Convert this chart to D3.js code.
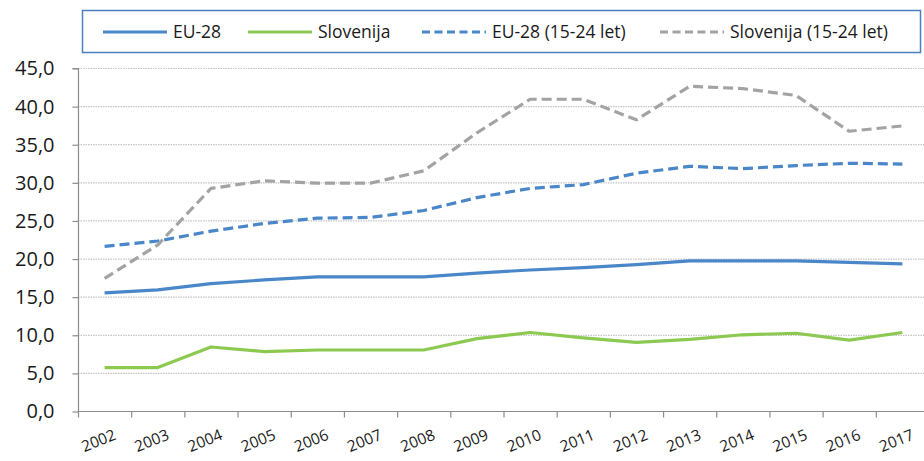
<!DOCTYPE html>
<html>
<head>
<meta charset="utf-8">
<script src="https://cdn.jsdelivr.net/npm/d3@7"></script>
<style>
  html, body { margin: 0; padding: 0; background: #ffffff; overflow: hidden; }
  svg { display: block; }
</style>
</head>
<body>
<svg id="chart" width="924" height="461"></svg>
<script>
// Years on the category axis
const years = ["2002","2003","2004","2005","2006","2007","2008","2009",
               "2010","2011","2012","2013","2014","2015","2016","2017"];

// Unemployment rates (%)
const eu28 = [15.5, 15.9, 16.7, 17.2, 17.6, 17.6, 17.6, 18.1,
              18.5, 18.8, 19.2, 19.7, 19.7, 19.7, 19.5, 19.3];
const slovenija = [5.7, 5.7, 8.4, 7.8, 8.0, 8.0, 8.0, 9.5,
                   10.3, 9.6, 9.0, 9.4, 10.0, 10.2, 9.3, 10.3];
const eu28Youth = [21.6, 22.3, 23.6, 24.6, 25.3, 25.4, 26.3, 28.0,
                   29.2, 29.7, 31.2, 32.1, 31.8, 32.2, 32.5, 32.4];
const slovenijaYouth = [17.4, 21.8, 29.2, 30.2, 29.9, 29.9, 31.5, 36.5,
                        40.9, 40.9, 38.2, 42.6, 42.3, 41.4, 36.7, 37.4];

// Y axis ticks
const yTicks = [0, 5, 10, 15, 20, 25, 30, 35, 40, 45];

const seriesNames = ["EU-28", "Slovenija", "EU-28 (15-24 let)", "Slovenija (15-24 let)"];

const series = [
  { name: seriesNames[0], values: eu28,           color: "#4a87c9", dash: null },
  { name: seriesNames[1], values: slovenija,      color: "#8cc951", dash: null },
  { name: seriesNames[2], values: eu28Youth,      color: "#4a87c9", dash: "10,5" },
  { name: seriesNames[3], values: slovenijaYouth, color: "#a3a3a3", dash: "10,5" }
];

const svg = d3.select("#chart");
const font = "'Open Sans', 'Liberation Sans', sans-serif";

const plotLeft = 78, plotRight = 929, plotTop = 68, plotBottom = 411;

const x = d3.scaleBand().domain(years).range([plotLeft, plotRight]).paddingInner(0).paddingOuter(0);
const y = d3.scaleLinear().domain([0, 45]).range([plotBottom, plotTop]);

// Horizontal gridlines (dotted)
svg.append("g")
  .selectAll("line")
  .data(yTicks.filter(d => d > 0))
  .join("line")
  .attr("x1", plotLeft).attr("x2", 924)
  .attr("y1", d => y(d) + 0.5).attr("y2", d => y(d) + 0.5)
  .attr("stroke", "#c4c4c4")
  .attr("stroke-width", 1.2)
  .attr("stroke-dasharray", "1.5,1");

// Y axis
const yAxis = d3.axisLeft(y)
  .tickValues(yTicks)
  .tickSize(6)
  .tickPadding(18)
  .tickFormat(d => d3.format(".1f")(d).replace(".", ","));

const gy = svg.append("g")
  .attr("transform", `translate(${plotLeft + 0.5},0.5)`)
  .call(yAxis);
gy.select(".domain").attr("stroke", "#8c8c8c").attr("stroke-width", 1.2)
  .attr("d", `M-6,${plotTop}H0V${plotBottom}`);
gy.selectAll(".tick line").attr("stroke", "#8c8c8c").attr("stroke-width", 1.2);
gy.selectAll(".tick text")
  .attr("fill", "#1a1a1a")
  .style("font-family", font)
  .style("font-size", "20px");

// X axis: ticks at category boundaries
const gx = svg.append("g").attr("transform", `translate(0,${plotBottom + 0.5})`);
gx.append("line")
  .attr("x1", plotLeft).attr("x2", 924)
  .attr("y1", 0).attr("y2", 0)
  .attr("stroke", "#8c8c8c").attr("stroke-width", 1.2);
gx.selectAll("line.tick")
  .data(years)
  .join("line")
  .attr("class", "tick")
  .attr("x1", d => x(d) + 0.5).attr("x2", d => x(d) + 0.5)
  .attr("y1", 0).attr("y2", 6)
  .attr("stroke", "#8c8c8c").attr("stroke-width", 1.2);
gx.selectAll("text")
  .data(years)
  .join("text")
  .attr("transform", d => `translate(${x(d) + x.bandwidth() / 2 - 4},${34}) rotate(-22)`)
  .attr("text-anchor", "middle")
  .attr("fill", "#1a1a1a")
  .style("font-family", font)
  .style("font-size", "15.5px")
  .text(d => d);

// Data lines
const line = d3.line()
  .x((d, i) => x(years[i]) + x.bandwidth() / 2)
  .y(d => y(d));

svg.append("g")
  .selectAll("path")
  .data(series)
  .join("path")
  .attr("d", s => line(s.values))
  .attr("fill", "none")
  .attr("stroke", s => s.color)
  .attr("stroke-width", 3.2)
  .attr("stroke-linejoin", "round")
  .attr("stroke-dasharray", s => s.dash);

// Legend
const legend = svg.append("g");
legend.append("rect")
  .attr("x", 82.5).attr("y", 10.5)
  .attr("width", 838).attr("height", 42)
  .attr("fill", "#ffffff")
  .attr("stroke", "#4a7fbd")
  .attr("stroke-width", 1.5);

const legendX = [103, 248, 422, 660];
const items = legend.selectAll("g.item")
  .data(series)
  .join("g")
  .attr("class", "item")
  .attr("transform", (d, i) => `translate(${legendX[i]},32)`);
items.append("line")
  .attr("x1", 0).attr("x2", 64)
  .attr("y1", 0).attr("y2", 0)
  .attr("stroke", d => d.color)
  .attr("stroke-width", 3.2)
  .attr("stroke-dasharray", d => d.dash ? "8,4.5" : null);
items.append("text")
  .attr("x", 70).attr("y", 6)
  .attr("fill", "#1a1a1a")
  .style("font-family", font)
  .style("font-size", "17.5px")
  .text(d => d.name);
</script>
</body>
</html>
